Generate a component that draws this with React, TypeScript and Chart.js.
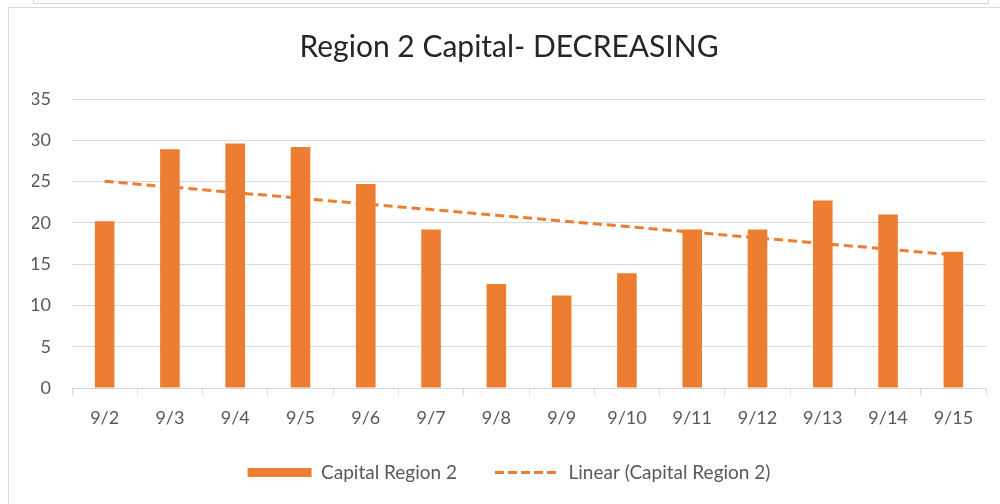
import React, { useEffect, useRef } from "react";
import { Chart, registerables } from "chart.js";

Chart.register(...registerables);

const categories = ["9/2", "9/3", "9/4", "9/5", "9/6", "9/7", "9/8", "9/9", "9/10", "9/11", "9/12", "9/13", "9/14", "9/15"];
const capitalRegion2 = [20.2, 28.9, 29.6, 29.2, 24.7, 19.2, 12.6, 11.2, 13.9, 19.2, 19.2, 22.7, 21.0, 16.5];
const yMin = 0;
const yMax = 35;
const yStep = 5;
const chartTitle = "Region 2 Capital- DECREASING";
const seriesLabel = "Capital Region 2";
const trendLabel = "Linear (Capital Region 2)";

const ORANGE = "#ED7D31";
const GRID = "#D9D9D9";
const TEXT = "#595959";
const FONT = "Lato";

function linearTrend(values: number[]): number[] {
  const n = values.length;
  const xs = values.map((_, i) => i + 1);
  const mx = xs.reduce((a, b) => a + b, 0) / n;
  const my = values.reduce((a, b) => a + b, 0) / n;
  let sxy = 0;
  let sxx = 0;
  for (let i = 0; i < n; i++) {
    sxy += (xs[i] - mx) * (values[i] - my);
    sxx += (xs[i] - mx) * (xs[i] - mx);
  }
  const slope = sxy / sxx;
  const intercept = my - slope * mx;
  return xs.map((x) => intercept + slope * x);
}

export default function App() {
  const canvasRef = useRef<HTMLCanvasElement | null>(null);

  useEffect(() => {
    const canvas = canvasRef.current;
    if (!canvas) return;
    const trend = linearTrend(capitalRegion2);
    const chart = new Chart(canvas, {
      type: "bar",
      data: {
        labels: categories,
        datasets: [
          {
            type: "bar",
            label: seriesLabel,
            data: capitalRegion2,
            backgroundColor: ORANGE,
            borderWidth: 0,
            barPercentage: 0.3,
            categoryPercentage: 1,
            order: 2,
          } as any,
          {
            type: "line",
            label: trendLabel,
            data: trend,
            borderColor: ORANGE,
            backgroundColor: ORANGE,
            borderWidth: 3,
            borderDash: [9, 5],
            pointRadius: 0,
            pointHoverRadius: 0,
            pointStyle: "line",
            fill: false,
            tension: 0,
            order: 1,
          } as any,
        ],
      },
      options: {
        responsive: false,
        animation: false,
        events: [],
        layout: { padding: { left: 23, right: 14, top: 0, bottom: 12 } },
        plugins: {
          tooltip: { enabled: false },
          title: {
            display: true,
            text: chartTitle,
            color: "#262626",
            font: { family: FONT, size: 30, weight: "normal" },
            padding: { top: 21, bottom: 34 },
          },
          legend: {
            display: true,
            position: "bottom",
            labels: {
              color: TEXT,
              font: { family: FONT, size: 19 },
              usePointStyle: true,
              pointStyleWidth: 64,
              boxHeight: 9,
              padding: 38,
              sort: (a: any, b: any) => a.datasetIndex - b.datasetIndex,
              generateLabels: (c: any) => {
                const items = Chart.defaults.plugins.legend.labels.generateLabels(c);
                return items.map((it: any) => {
                  if (it.datasetIndex === 0) {
                    return { ...it, pointStyle: "rect", lineWidth: 0, strokeStyle: ORANGE };
                  }
                  return { ...it, pointStyle: "line", lineWidth: 3, lineDash: [9, 4] };
                });
              },
            },
          },
        },
        scales: {
          x: {
            offset: true,
            grid: {
              display: true,
              drawOnChartArea: false,
              drawTicks: true,
              tickLength: 7,
              color: GRID,
              offset: true,
            },
            border: { display: true, color: GRID, width: 1 },
            ticks: {
              color: TEXT,
              font: { family: FONT, size: 18 },
              padding: 12,
              maxRotation: 0,
              autoSkip: false,
            },
            afterFit: (s: any) => {
              s.height = 37;
            },
          },
          y: {
            min: yMin,
            max: yMax,
            grid: { color: GRID, drawTicks: false, lineWidth: 1 },
            border: { display: false },
            ticks: {
              stepSize: yStep,
              color: TEXT,
              font: { family: FONT, size: 18 },
              padding: 21,
            },
            afterFit: (s: any) => {
              s.width = 40;
            },
          },
        },
      },
    });
    return () => chart.destroy();
  }, []);

  return (
    <div
      style={{
        position: "fixed",
        left: 0,
        top: 0,
        width: 1000,
        height: 504,
        background: "#fff",
        overflow: "hidden",
      }}
    >
      <div
        style={{
          position: "absolute",
          left: 33,
          top: -20,
          width: 956,
          height: 24,
          border: "1px solid #D9D9D9",
          borderTopWidth: 0,
          boxSizing: "border-box",
        }}
      />
      <div
        style={{
          position: "absolute",
          left: 8,
          top: 7,
          width: 1100,
          height: 600,
          border: "1px solid #D9D9D9",
          boxSizing: "border-box",
        }}
      />
      <canvas
        ref={canvasRef}
        width={991}
        height={496}
        style={{ position: "absolute", left: 9, top: 8, width: 991, height: 496 }}
      />
    </div>
  );
}
